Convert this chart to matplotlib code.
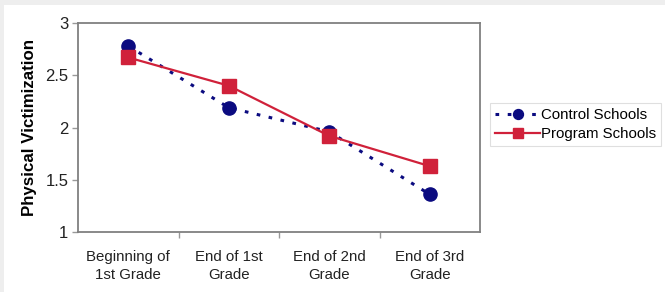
import matplotlib
matplotlib.use("Agg")
import matplotlib.pyplot as plt
from matplotlib.patches import Rectangle

categories = ["Beginning of\n1st Grade", "End of 1st\nGrade", "End of 2nd\nGrade", "End of 3rd\nGrade"]
control = [2.78, 2.19, 1.96, 1.36]
program = [2.67, 2.40, 1.92, 1.63]
yticks = [1, 1.5, 2, 2.5, 3]
ytick_labels = ["1", "1.5", "2", "2.5", "3"]

plt.rcParams['font.family'] = ['Liberation Sans', 'DejaVu Sans']

W, H = 665, 292
fig = plt.figure(figsize=(W / 100, H / 100), dpi=100)
fig.patch.set_facecolor('#eeeeee')
fig.patches.append(Rectangle((4 / W, 0), 1, 1 - 5 / H, transform=fig.transFigure,
                             facecolor='white', edgecolor='none', zorder=-10))

ax = fig.add_axes([78 / W, 1 - 232 / H, 402 / W, 209 / H])
ax.set_facecolor('white')
x = list(range(len(categories)))

ax.plot(x, control, color='#0b0b80', linestyle=(0, (1.2, 2.8)), linewidth=2.2,
        marker='o', markersize=9.5, label='Control Schools', zorder=3)
ax.plot(x, program, color='#d0213a', linestyle='-', linewidth=1.6,
        marker='s', markersize=10, label='Program Schools', zorder=4)

ax.set_xlim(-0.5, 3.5)
ax.set_ylim(1, 3)
ax.set_yticks(yticks)
ax.set_yticklabels(ytick_labels, fontsize=12, color='#222222')
ax.set_xticks(x)
ax.set_xticklabels(categories, fontsize=10.8, color='#222222', linespacing=1.32)
ax.tick_params(axis='x', which='major', length=0, pad=13)
ax.set_xticks([0.5, 1.5, 2.5], minor=True)
ax.tick_params(axis='x', which='minor', length=4, color='#999999', width=1)
ax.tick_params(axis='y', length=4, color='#999999', width=1, pad=3)
for s in ax.spines.values():
    s.set_color('#808080')
    s.set_linewidth(1.3)

ax.set_ylabel('Physical Victimization', fontsize=12.2, fontweight='bold', labelpad=6)

leg = fig.legend(loc='upper left', bbox_to_anchor=(490 / W, 1 - 103 / H),
                 bbox_transform=fig.transFigure, fontsize=10.8, frameon=True,
                 fancybox=False, borderpad=0.35, handlelength=3.0, handletextpad=0.05,
                 labelspacing=0.3, borderaxespad=0, markerscale=0.75)
leg.get_frame().set_edgecolor('#d8d8d8')
leg.get_frame().set_linewidth(0.8)

fig.savefig('out.png', dpi=100, facecolor=fig.get_facecolor())
